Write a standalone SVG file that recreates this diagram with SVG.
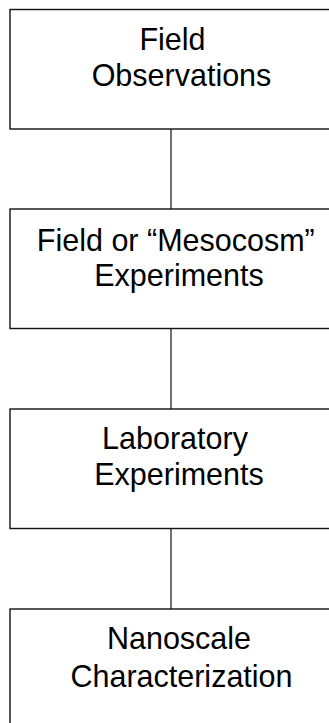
<svg xmlns="http://www.w3.org/2000/svg" width="329" height="723" viewBox="0 0 329 723">
<style>
.box{fill:#fff;stroke:#111;stroke-width:1.4}
.lbl{font-family:"Liberation Sans",Arial,sans-serif;font-size:30.5px;fill:#000;text-anchor:middle}
.conn{stroke:#111;stroke-width:1.2;fill:none}
</style>
<rect width="329" height="723" fill="#fff"/>
<g id="connectors">
<line class="conn" x1="171" y1="129" x2="171" y2="209"/>
<line class="conn" x1="171" y1="328.5" x2="171" y2="409"/>
<line class="conn" x1="171" y1="528.5" x2="171" y2="609"/>
</g>
<g id="node1">
<rect class="box" x="10" y="9.5" width="330" height="119.5"/>
<text class="lbl" x="172.5" y="50">Field</text>
<text class="lbl" x="181.5" y="86">Observations</text>
</g>
<g id="node2">
<rect class="box" x="10" y="209" width="330" height="119.5"/>
<text class="lbl" x="175.8" y="251">Field or “Mesocosm”</text>
<text class="lbl" x="179" y="286">Experiments</text>
</g>
<g id="node3">
<rect class="box" x="10" y="409" width="330" height="119.5"/>
<text class="lbl" x="175" y="449">Laboratory</text>
<text class="lbl" x="179" y="485">Experiments</text>
</g>
<g id="node4">
<rect class="box" x="10" y="609" width="330" height="130"/>
<text class="lbl" x="179" y="649">Nanoscale</text>
<text class="lbl" x="181.5" y="687">Characterization</text>
</g>
</svg>
